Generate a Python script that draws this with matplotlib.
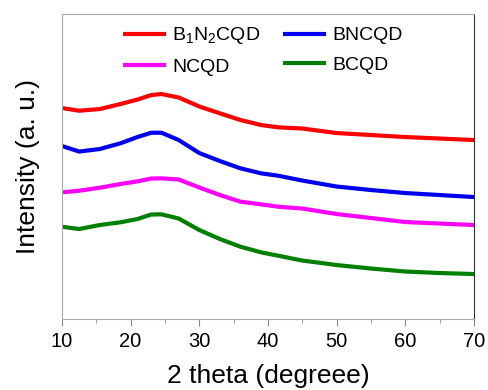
import matplotlib.pyplot as plt
from matplotlib.ticker import MultipleLocator

plt.rcParams['font.family'] = ['Liberation Sans', 'DejaVu Sans']
plt.rcParams['mathtext.fontset'] = 'custom'
plt.rcParams['mathtext.rm'] = 'Liberation Sans'

# 2 theta positions
two_theta = [10, 12.5, 15.5, 18.5, 21, 23, 24.5, 27, 30, 33, 36, 39, 41.5,
             45, 50, 55, 60, 65, 70]

# intensities (arbitrary units, stacked)
b1n2cqd = [211, 208.3, 210, 215, 219.5, 224, 225, 221.5, 212.5, 205.7, 199, 194,
           191.7, 190.5, 186, 184, 182, 180.5, 179]
bncqd = [173, 167.5, 170, 175.7, 182, 186.3, 186.3, 179, 166, 158, 150.7, 145.7,
         143.3, 138.5, 132.5, 129, 126, 124, 122]
ncqd = [126.7, 128.3, 131.3, 135, 137.7, 140.5, 140.7, 139.5, 131.5, 124, 117.3,
        114.7, 112.3, 110.5, 105, 101, 97, 95.5, 94]
bcqd = [92.3, 90, 94, 96.7, 100, 104.5, 104.7, 100.5, 89, 80, 72.3, 66.7,
        63.3, 58.5, 54, 50.5, 47.5, 46, 45]

fig = plt.figure(figsize=(4.88, 3.9), dpi=100)
ax = fig.add_axes([0.127, 0.182, 0.844, 0.782])

lw = 3.0
l1, = ax.plot(two_theta, b1n2cqd, color='#ff0000', lw=lw, solid_joinstyle='round',
              label=r'B$_\mathregular{1}$N$_\mathregular{2}$CQD')
l2, = ax.plot(two_theta, bncqd, color='#0000ee', lw=lw, solid_joinstyle='round',
              label='BNCQD')
l3, = ax.plot(two_theta, ncqd, color='#ff00ff', lw=lw, solid_joinstyle='round',
              label='NCQD')
l4, = ax.plot(two_theta, bcqd, color='#007f00', lw=lw, solid_joinstyle='round',
              label='BCQD')

ax.set_xlim(10, 70)
ax.set_ylim(0, 305)
ax.xaxis.set_major_locator(MultipleLocator(10))
ax.xaxis.set_minor_locator(MultipleLocator(5))
ax.tick_params(axis='x', which='major', length=5, color='#888888', labelsize=14.5, pad=4)
ax.tick_params(axis='x', which='minor', length=3, color='#888888')
ax.set_yticks([])

for s in ['left', 'top', 'bottom']:
    ax.spines[s].set_color('#aaaaaa')
ax.spines['right'].set_color('#333333')

ax.set_xlabel('2 theta (degreee)', fontsize=19, labelpad=10)
ax.set_ylabel('Intensity (a. u.)', fontsize=19, labelpad=16)

# column-major order so rows read B1N2CQD/BNCQD then NCQD/BCQD
ax.legend([l1, l3, l2, l4], [l1.get_label(), l3.get_label(), l2.get_label(), l4.get_label()],
          ncol=2, loc='upper center', frameon=False, fontsize=14,
          handlelength=2.0, handletextpad=0.4, columnspacing=1.3,
          labelspacing=0.6, bbox_to_anchor=(0.49, 1.02))

fig.savefig('out.png', dpi=100)
